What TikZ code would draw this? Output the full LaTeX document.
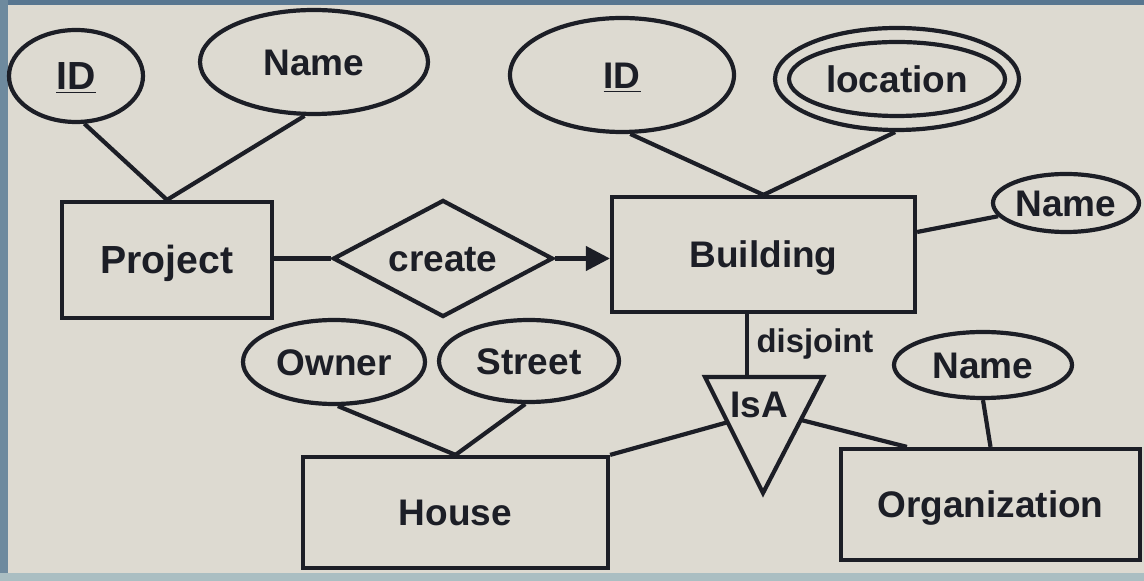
\documentclass[tikz,border=0pt]{standalone}
\usepackage{fontspec}
\setmainfont{Liberation Sans}
\usetikzlibrary{shapes.geometric,arrows.meta,calc}
\definecolor{bg}{RGB}{221,218,209}
\definecolor{ink}{RGB}{28,30,38}
\definecolor{stripTop}{RGB}{88,118,144}
\definecolor{stripLeft}{RGB}{110,138,158}
\definecolor{stripBot}{RGB}{170,190,194}
\begin{document}
\begin{tikzpicture}[x=0.5pt,y=-0.5pt,
  every node/.style={inner sep=0pt, text=ink,
    font=\bfseries\fontsize{18.5}{20}\selectfont,
    text height=13.2pt, text depth=0pt},
  ent/.style={draw=ink, line width=2.1pt, rectangle},
  attr/.style={draw=ink, line width=2.1pt, ellipse},
  rel/.style={draw=ink, line width=2.1pt, diamond, aspect=2},
  conn/.style={draw=ink, line width=2.1pt},
  bigtext/.style={font=\bfseries\fontsize{19.6}{21}\selectfont, text height=14pt},
  smalltext/.style={font=\bfseries\fontsize{16.4}{18}\selectfont, text height=11.7pt}]
\fill[bg] (0,0) rectangle (1144,581);
\fill[stripTop] (0,0) rectangle (1144,5);
\fill[stripLeft] (0,0) rectangle (8,581);
\fill[stripBot] (0,573) rectangle (1144,581);
\useasboundingbox (0,0) rectangle (1144,581);

% entities
\node[ent, bigtext, minimum width=105pt, minimum height=58pt] (proj) at (167,260) {Project};
\node[ent, minimum width=151.5pt, minimum height=57.5pt] (bldg) at (763.5,254.5) {Building};
\node[ent, minimum width=152.5pt, minimum height=55.5pt] (house) at (455.5,512.5) {House};
\node[ent, minimum width=149.5pt, minimum height=55.5pt] (org) at (990.5,504.5) {Organization};

% relationship
\node[rel, minimum width=110pt, minimum height=58.5pt] (create) at (443,258.5) {create};

% attributes
\node[attr, bigtext, minimum width=67pt, minimum height=46pt] (pid) at (76,76) {\underline{ID}};
\node[attr, minimum width=114pt, minimum height=52pt] (pname) at (314,62) {Name};
\node[attr, minimum width=112pt, minimum height=57pt] (bid) at (622,75) {\underline{ID}};
\node[attr, minimum width=122pt, minimum height=51pt] (loc) at (897,79) {};
\node[attr, minimum width=108pt, minimum height=37pt] (locin) at (897,79) {location};
\node[attr, minimum width=73pt, minimum height=29pt] (bname) at (1066,203) {Name};
\node[attr, minimum width=91pt, minimum height=42pt] (owner) at (334,362) {Owner};
\node[attr, minimum width=90pt, minimum height=41pt] (street) at (529,361) {Street};
\node[attr, minimum width=89pt, minimum height=33pt] (oname) at (983,365) {Name};

% IsA triangle
\coordinate (ta) at (705,377);
\coordinate (tb) at (823,377);
\coordinate (tc) at (763,493);
\draw[conn, line join=miter] (ta) -- (tb) -- (tc) -- cycle;
\node (isa) at (759,404) {IsA};
\node[smalltext] (disj) at (815,341) {disjoint};
\coordinate (tt) at (747,377);
\coordinate (tl) at ($(ta)!0.39!(tc)$);
\coordinate (tr) at ($(tb)!0.37!(tc)$);

% connectors
\draw[conn] (pid.-80) -- (proj.north);
\draw[conn] (pname.-100) -- (proj.north);
\draw[conn] (proj.east |- create.west) -- (create.west);
\draw[conn, -{Triangle[length=12pt,width=12pt]}] (create.east) -- (bldg.west |- create.east);
\draw[conn] (bid.-82) -- (bldg.north);
\draw[conn] (loc.-92) -- (bldg.north);
\draw[conn] ([yshift=11.25pt]bldg.east) -- (bname);
\draw[conn] ([xshift=-8.25pt]bldg.south) -- (tt);
\draw[conn] (tl) -- (house.north east);
\draw[conn] (tr) -- ([xshift=34pt]org.north west);
\draw[conn] (owner.-85) -- (house.north);
\draw[conn] (street.-95) -- (house.north);
\draw[conn] (oname.south) -- (org.north);
\end{tikzpicture}
\end{document}
